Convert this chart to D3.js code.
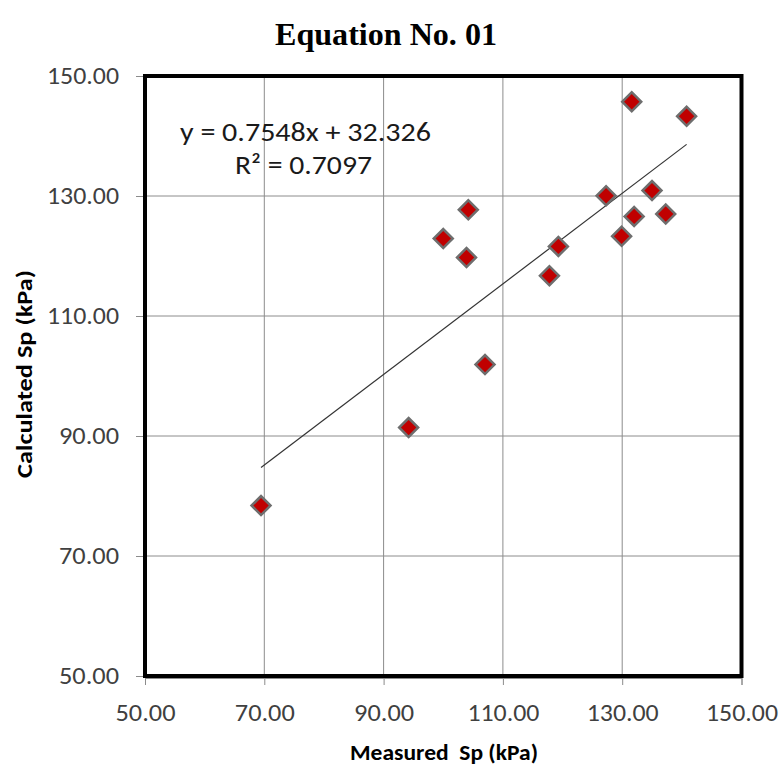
<!DOCTYPE html>
<html>
<head>
<meta charset="utf-8">
<script src="https://cdn.jsdelivr.net/npm/d3@7"></script>
<style>
  html, body { margin: 0; padding: 0; background: #fff; }
  svg { display: block; }
</style>
</head>
<body>
<svg id="chart" width="781" height="767"></svg>
<script>
// Measured vs calculated Sp (kPa)
const measured   = [69.45, 94.2, 100.0, 104.2, 103.9, 107.0, 117.8, 119.3, 127.3, 129.9, 132.0, 135.0, 137.3, 131.6, 140.8];
const calculated = [78.4, 91.4, 122.9, 127.7, 119.75, 101.9, 116.7, 121.6, 130.05, 123.3, 126.6, 130.9, 127.0, 145.7, 143.3];

// Linear trendline coefficients and fit quality
const slope = 0.7548;
const intercept = 32.326;
const rSquared = 0.7097;

const xTicks = [50, 70, 90, 110, 130, 150];
const yTicks = [50, 70, 90, 110, 130, 150];

const titleText = "Equation No. 01";
const xTitle = "Measured  Sp (kPa)";
const yTitle = "Calculated Sp (kPa)";

const svg = d3.select("#chart");
const plotLeft = 145, plotRight = 741.5, plotTop = 76, plotBottom = 676;

const x = d3.scaleLinear().domain([50, 150]).range([plotLeft, plotRight]);
const y = d3.scaleLinear().domain([50, 150]).range([plotBottom, plotTop]);

const tickFont = "Carlito, Calibri, Lato, 'Open Sans', sans-serif";

// Gridlines
svg.append("g")
  .selectAll("line")
  .data(xTicks.slice(1, -1))
  .join("line")
  .attr("x1", d => x(d)).attr("x2", d => x(d))
  .attr("y1", plotTop).attr("y2", plotBottom)
  .attr("stroke", "#8c8c8c").attr("stroke-width", 1);

svg.append("g")
  .selectAll("line")
  .data(yTicks.slice(1, -1))
  .join("line")
  .attr("x1", plotLeft).attr("x2", plotRight)
  .attr("y1", d => y(d)).attr("y2", d => y(d))
  .attr("stroke", "#8c8c8c").attr("stroke-width", 1);

// Axes
const xAxis = svg.append("g")
  .attr("transform", `translate(0,${plotBottom + 2})`)
  .call(d3.axisBottom(x).tickValues(xTicks).tickFormat(d3.format(".2f")).tickSize(7).tickPadding(19));
const yAxis = svg.append("g")
  .attr("transform", `translate(${plotLeft - 2},0)`)
  .call(d3.axisLeft(y).tickValues(yTicks).tickFormat(d3.format(".2f")).tickSize(7).tickPadding(17));

[xAxis, yAxis].forEach(g => {
  g.select(".domain").attr("stroke", "#8c8c8c").attr("stroke-width", 1);
  g.selectAll(".tick line").attr("stroke", "#8c8c8c");
  g.selectAll(".tick text")
    .attr("fill", "#404040")
    .style("font-family", tickFont)
    .style("font-size", "24px")
    .attr("lengthAdjust", "spacingAndGlyphs")
    .attr("textLength", function () { return this.textContent.length * 12; });
});

// Plot frame
svg.append("rect")
  .attr("x", plotLeft).attr("y", plotTop)
  .attr("width", plotRight - plotLeft).attr("height", plotBottom - plotTop)
  .attr("fill", "none")
  .attr("stroke", "#000").attr("stroke-width", 4);

// Trendline over the measured range
const xMin = d3.min(measured), xMax = d3.max(measured);
svg.append("line")
  .attr("x1", x(xMin)).attr("y1", y(slope * xMin + intercept))
  .attr("x2", x(xMax)).attr("y2", y(slope * xMax + intercept))
  .attr("stroke", "#333").attr("stroke-width", 1.2);

// Data points as diamonds
const diamond = d3.symbol().type(d3.symbolSquare).size(180);
svg.append("g")
  .selectAll("path")
  .data(measured.map((m, i) => [m, calculated[i]]))
  .join("path")
  .attr("d", diamond)
  .attr("transform", d => `translate(${x(d[0])},${y(d[1])}) rotate(45)`)
  .attr("fill", "#c00000")
  .attr("stroke", "#6e6e6e")
  .attr("stroke-width", 2.5);

// Trendline equation
svg.append("text")
  .attr("x", 180).attr("y", 141)
  .attr("fill", "#1a1a1a")
  .style("font-family", tickFont).style("font-size", "26px")
  .attr("lengthAdjust", "spacingAndGlyphs").attr("textLength", 251)
  .text(`y = ${slope}x + ${intercept}`);
svg.append("text")
  .attr("x", 235).attr("y", 174)
  .attr("fill", "#1a1a1a")
  .style("font-family", tickFont).style("font-size", "26px")
  .attr("lengthAdjust", "spacingAndGlyphs").attr("textLength", 137)
  .text(`R\u00B2 = ${rSquared}`);

// Title
svg.append("text")
  .attr("x", 386).attr("y", 45)
  .attr("text-anchor", "middle")
  .style("font-family", "'Liberation Serif', 'Times New Roman', serif")
  .style("font-weight", "bold")
  .style("font-size", "31px")
  .attr("lengthAdjust", "spacingAndGlyphs").attr("textLength", 222)
  .text(titleText);

// Axis titles
svg.append("text")
  .attr("x", 444).attr("y", 760)
  .attr("text-anchor", "middle")
  .attr("fill", "#000")
  .style("white-space", "pre")
  .style("font-family", tickFont).style("font-weight", "bold").style("font-size", "23px")
  .attr("lengthAdjust", "spacingAndGlyphs").attr("textLength", 188)
  .text(xTitle);

svg.append("text")
  .attr("transform", "translate(32,374) rotate(-90)")
  .attr("text-anchor", "middle")
  .attr("fill", "#000")
  .style("font-family", tickFont).style("font-weight", "bold").style("font-size", "23px")
  .attr("lengthAdjust", "spacingAndGlyphs").attr("textLength", 208)
  .text(yTitle);
</script>
</body>
</html>
